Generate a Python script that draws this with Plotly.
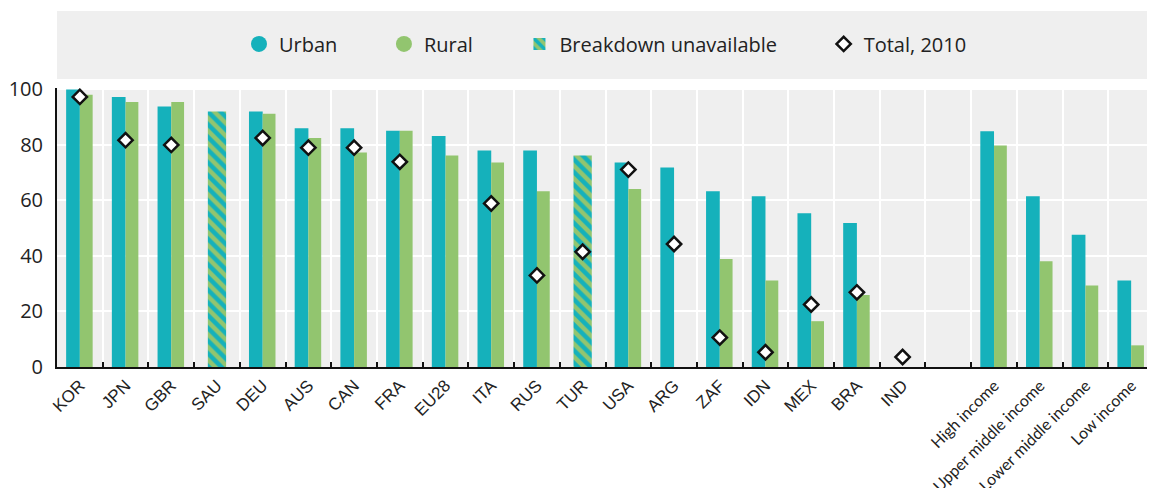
import plotly.graph_objects as go

categories = ["KOR", "JPN", "GBR", "SAU", "DEU", "AUS", "CAN", "FRA", "EU28", "ITA",
              "RUS", "TUR", "USA", "ARG", "ZAF", "IDN", "MEX", "BRA", "IND", " ",
              "High income", "Upper middle income", "Lower middle income", "Low income"]
income_groups = ["High income", "Upper middle income", "Lower middle income", "Low income"]

urban = [100, 97.3, 93.8, None, 92.0, 86.0, 86.0, 85.1, 83.2, 78.0,
         78.0, None, 73.7, 71.9, 63.3, 61.5, 55.4, 51.9, None, None,
         84.9, 61.5, 47.6, 31.2]
rural = [98.1, 95.5, 95.5, None, 91.2, 82.5, 77.3, 85.1, 76.2, 73.7,
         63.3, None, 64.1, None, 38.9, 31.2, 16.5, 25.9, None, None,
         79.8, 38.1, 29.4, 7.8]
unavailable = [None, None, None, 92.0, None, None, None, None, None, None,
               None, 76.2, None, None, None, None, None, None, None, None,
               None, None, None, None]
total_2010 = [97.3, 81.7, 80.0, None, 82.5, 79.0, 79.0, 73.9, None, 58.9,
              33.0, 41.5, 71.1, 44.3, 10.6, 5.3, 22.5, 26.9, 3.6, None,
              None, None, None, None]

TEAL = "#15b1bb"
GREEN = "#92c56f"
BG = "#efefef"
LEG_FONT = dict(family="'Open Sans', Lato, sans-serif", size=20, color="#222222")
PAD = "&nbsp;" * 8

tick_text = [
    f'<span style="font-family:Lato,sans-serif;font-size:16px">{c}</span>'
    if c in income_groups else c
    for c in categories
]

fig = go.Figure()

# legend-only entries (circles)
fig.add_trace(go.Scatter(x=[categories[0]], y=[None], mode="markers", name="Urban" + PAD,
                         marker=dict(symbol="circle", size=20, color=TEAL)))
fig.add_trace(go.Scatter(x=[categories[0]], y=[None], mode="markers", name="Rural" + PAD,
                         marker=dict(symbol="circle", size=20, color=GREEN)))

fig.add_trace(go.Bar(x=categories, y=urban, name="Urban", showlegend=False,
                     marker=dict(color=TEAL, line=dict(width=0)),
                     width=0.3, offset=-0.3))
fig.add_trace(go.Bar(x=categories, y=rural, name="Rural", showlegend=False,
                     marker=dict(color=GREEN, line=dict(width=0)),
                     width=0.28, offset=0.0))
fig.add_trace(go.Bar(x=categories, y=unavailable, name="Breakdown unavailable" + PAD,
                     marker=dict(color=GREEN, line=dict(width=0),
                                 pattern=dict(shape="\\", fgcolor=TEAL, bgcolor=GREEN,
                                              size=9, solidity=0.5, fillmode="replace")),
                     width=0.4, offset=-0.2))
fig.add_trace(go.Scatter(x=categories, y=total_2010, mode="markers", name="Total, 2010",
                         marker=dict(symbol="diamond", size=11, color="white",
                                     line=dict(color="#111111", width=2.5))))

fig.add_shape(type="rect", xref="paper", yref="paper", x0=0, x1=1.0,
              y0=1.032, y1=1.276, fillcolor=BG, line=dict(width=0), layer="below")

# the page adds an 8px body margin, so the figure is sized/margined to compensate
fig.update_layout(
    width=1147, height=480,
    margin=dict(l=49, r=1, t=80, b=121, autoexpand=False),
    paper_bgcolor="white", plot_bgcolor=BG,
    barmode="overlay",
    showlegend=True,
    legend=dict(orientation="h", x=0.5, xanchor="center", y=1.158, yanchor="middle",
                bgcolor="rgba(0,0,0,0)", font=LEG_FONT, traceorder="normal"),
    xaxis=dict(type="category", categoryorder="array", categoryarray=categories,
               range=[-0.5, len(categories) - 0.5],
               tickmode="array", tickvals=categories, ticktext=tick_text,
               tickson="boundaries", showgrid=True, gridcolor="white", gridwidth=2,
               ticks="inside", ticklen=5, tickwidth=2, tickcolor="#111111",
               showline=True, linecolor="#111111", linewidth=2,
               tickangle=-45, automargin=False,
               tickfont=dict(family="'Liberation Sans', Arial, sans-serif", size=17,
                             color="#222222")),
    yaxis=dict(range=[0, 100.5], dtick=20, showgrid=True, gridcolor="white", gridwidth=2,
               zeroline=False, showline=True, linecolor="#111111", linewidth=2,
               ticks="", ticklabelstandoff=8, tickfont=LEG_FONT, automargin=False),
)

fig.write_html("out.html")
